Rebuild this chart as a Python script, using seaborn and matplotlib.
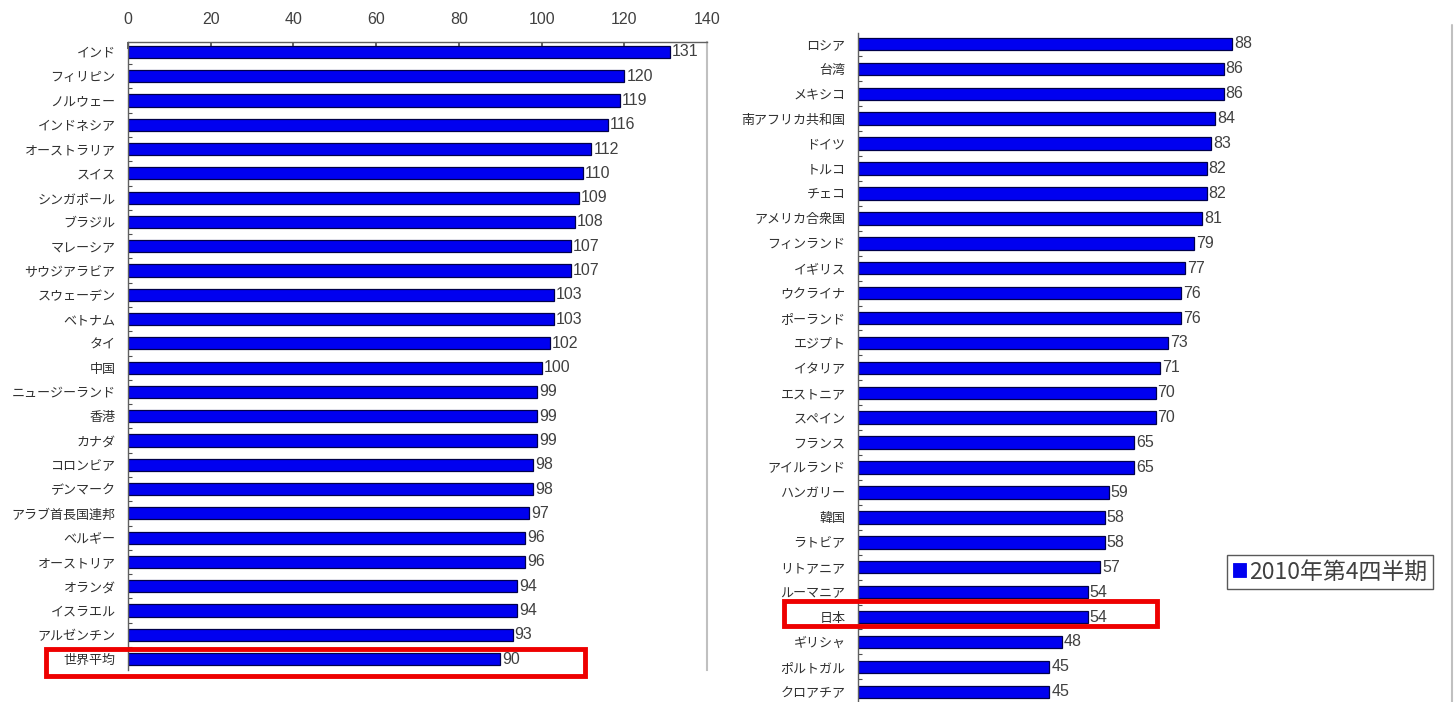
import matplotlib
matplotlib.use("Agg")
import matplotlib.pyplot as plt
import seaborn as sns
import pandas as pd
from matplotlib.patches import Rectangle
from matplotlib.lines import Line2D
from matplotlib.ticker import FixedLocator

left_countries = ["インド", "フィリピン", "ノルウェー", "インドネシア", "オーストラリア", "スイス",
                  "シンガポール", "ブラジル", "マレーシア", "サウジアラビア", "スウェーデン", "ベトナム",
                  "タイ", "中国", "ニュージーランド", "香港", "カナダ", "コロンビア", "デンマーク",
                  "アラブ首長国連邦", "ベルギー", "オーストリア", "オランダ", "イスラエル", "アルゼンチン",
                  "世界平均"]
left_values = [131, 120, 119, 116, 112, 110, 109, 108, 107, 107, 103, 103, 102, 100, 99, 99, 99,
               98, 98, 97, 96, 96, 94, 94, 93, 90]

right_countries = ["ロシア", "台湾", "メキシコ", "南アフリカ共和国", "ドイツ", "トルコ", "チェコ",
                   "アメリカ合衆国", "フィンランド", "イギリス", "ウクライナ", "ポーランド", "エジプト",
                   "イタリア", "エストニア", "スペイン", "フランス", "アイルランド", "ハンガリー", "韓国",
                   "ラトビア", "リトアニア", "ルーマニア", "日本", "ギリシャ", "ポルトガル", "クロアチア"]
right_values = [88, 86, 86, 84, 83, 82, 82, 81, 79, 77, 76, 76, 73, 71, 70, 70, 65, 65, 59, 58,
                58, 57, 54, 54, 48, 45, 45]

x_ticks = [0, 20, 40, 60, 80, 100, 120, 140]
legend_label = "2010年第4四半期"

sns.set_theme(style="white")
plt.rcParams['font.family'] = ['Noto Sans CJK JP', 'DejaVu Sans']

W, H = 1456, 702
fig = plt.figure(figsize=(W / 100, H / 100), dpi=100)
fig.patch.set_facecolor("white")

BAR = "#0000F0"
EDGE = "#00004A"
TXT = "#404040"


def fx(px):
    return px / W


def fy(py):
    return 1 - py / H


def setup(ax, n, values, top_axis):
    df = pd.DataFrame({"country": n, "value": values})
    sns.barplot(data=df, x="value", y="country", ax=ax, color=BAR, edgecolor=EDGE,
                linewidth=0.9, width=0.5, saturation=1, orient="h")
    for c in ax.containers:
        ax.bar_label(c, padding=1.5, fontsize=11.5, color=TXT, family="Liberation Sans")
    ax.set_xlim(0, 140)
    ax.set_xlabel("")
    ax.set_ylabel("")
    ax.yaxis.set_minor_locator(FixedLocator([i + 0.5 for i in range(len(n) - 1)]))
    ax.tick_params(axis="y", which="major", length=0, pad=9, labelsize=9.4, labelcolor="#303030")
    ax.tick_params(axis="y", which="minor", left=True, length=3, direction="in", color="#505050", width=0.8)
    ax.spines["left"].set_color("#606060")
    ax.spines["left"].set_linewidth(1)
    ax.spines["bottom"].set_visible(False)
    ax.spines["right"].set_color("#c0c0c0")
    ax.spines["right"].set_linewidth(1.5)
    if top_axis:
        ax.xaxis.tick_top()
        ax.set_xticks(x_ticks)
        ax.set_xticklabels([str(t) for t in x_ticks])
        ax.tick_params(axis="x", which="major", top=True, bottom=False, direction="in",
                       length=5, color="#505050", pad=11, labelsize=11.5, labelcolor=TXT)
        for lab in ax.get_xticklabels():
            lab.set_family("Liberation Sans")
        ax.spines["top"].set_color("#606060")
        ax.spines["top"].set_linewidth(1)
    else:
        ax.set_xticks([])
        ax.spines["top"].set_visible(False)
    ax.set_facecolor("white")


ax1 = fig.add_axes([fx(128), fy(670), fx(707 - 128), (670 - 42) / H])
setup(ax1, left_countries, left_values, True)
ax1.set_ylim(25.45, -0.41)

ax2 = fig.add_axes([fx(858), fy(702), fx(1453 - 858), (702 - 33) / H])
setup(ax2, right_countries, right_values, False)
ax2.set_ylim(26.41, -0.44)
ax2.spines["right"].set_visible(False)
fig.add_artist(Line2D([fx(1452), fx(1452)], [fy(25), fy(702)], color="#c0c0c0", lw=1.5))

# highlight boxes
fig.add_artist(Rectangle((fx(46), fy(676)), fx(585 - 46), (676 - 649) / H, fill=False,
                         edgecolor="#ee0000", lw=3.5))
fig.add_artist(Rectangle((fx(784), fy(626)), fx(1157 - 784), (626 - 601) / H, fill=False,
                         edgecolor="#ee0000", lw=3.5))

# legend
handle = Rectangle((0, 0), 1, 1, facecolor=BAR, edgecolor=BAR, lw=0.6)
leg = fig.legend([handle], [legend_label], loc="center", bbox_to_anchor=(fx(1330), fy(572)),
                 frameon=True, fancybox=False, fontsize=16.5, handlelength=0.55, handleheight=0.55,
                 handletextpad=0.15, borderpad=0.25, borderaxespad=0, labelcolor=TXT)
leg.get_frame().set_edgecolor("#303030")
leg.get_frame().set_linewidth(1)

fig.savefig("out.png", dpi=100, facecolor="white")
